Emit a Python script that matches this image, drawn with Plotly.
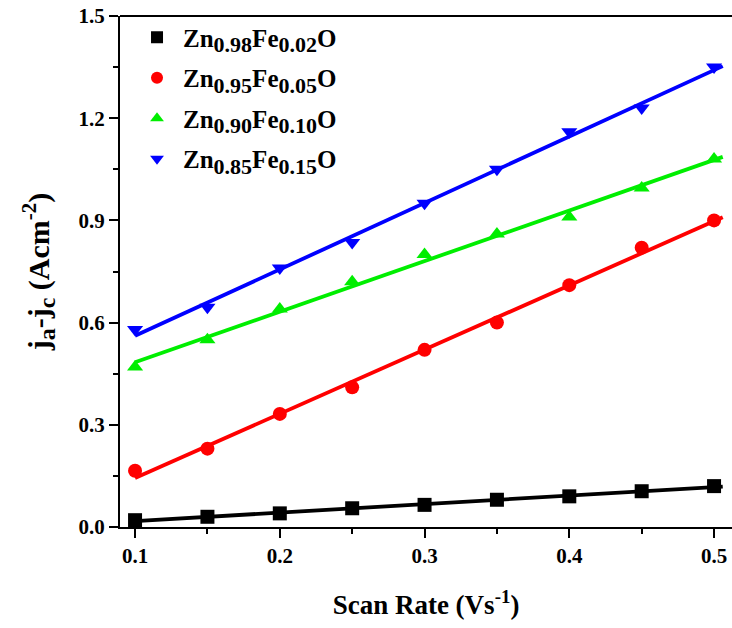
import numpy as np
import plotly.graph_objects as go

scan_rate = [0.10, 0.15, 0.20, 0.25, 0.30, 0.35, 0.40, 0.45, 0.50]
fe002 = [0.020, 0.030, 0.040, 0.055, 0.065, 0.080, 0.090, 0.105, 0.120]
fe005 = [0.165, 0.230, 0.332, 0.410, 0.520, 0.600, 0.710, 0.820, 0.900]
fe010 = [0.470, 0.550, 0.640, 0.720, 0.800, 0.860, 0.910, 0.995, 1.080]
fe015 = [0.580, 0.645, 0.760, 0.835, 0.950, 1.050, 1.160, 1.230, 1.350]

SUB = "<sub><span style='font-size:22px'>{}</span></sub>"
names = ["Zn" + SUB.format("0.98") + "Fe" + SUB.format("0.02") + "O",
         "Zn" + SUB.format("0.95") + "Fe" + SUB.format("0.05") + "O",
         "Zn" + SUB.format("0.90") + "Fe" + SUB.format("0.10") + "O",
         "Zn" + SUB.format("0.85") + "Fe" + SUB.format("0.15") + "O"]
colors = ["#000000", "#ff0000", "#00ee00", "#0000ff"]
symbols = ["square", "circle", "triangle-up", "triangle-down"]
series = [fe002, fe005, fe010, fe015]

fig = go.Figure()
x = np.array(scan_rate)
xfit = np.array([0.1, 0.506])
for ys, n, c, s in zip(series, names, colors, symbols):
    k, b = np.polyfit(x, np.array(ys), 1)
    fig.add_trace(go.Scatter(x=xfit, y=k * xfit + b, mode="lines",
                             line=dict(color=c, width=3.8), showlegend=False,
                             hoverinfo="skip"))
for i, (ys, n, c, s) in enumerate(zip(series, names, colors, symbols)):
    fig.add_trace(go.Scatter(x=scan_rate, y=ys, mode="markers", name=n,
                             legendgroup="g%d" % i,
                             marker=dict(symbol=s, color=c, size=14,
                                         line=dict(width=0))))

font = "Liberation Serif, Times New Roman, serif"
fig.update_layout(
    width=732, height=628,
    margin=dict(l=120, r=0, t=16, b=101),
    plot_bgcolor="white", paper_bgcolor="white",
    font=dict(family=font, color="black"),
    showlegend=True,
    legend=dict(x=0.018, y=1.003, xanchor="left", yanchor="top",
                bgcolor="rgba(0,0,0,0)", tracegroupgap=5,
                font=dict(size=25, family=font, weight="bold"),
                itemwidth=42, itemsizing="constant"),
    xaxis=dict(range=[0.0896, 0.5124], showgrid=False, zeroline=False,
               showline=True, linecolor="black", linewidth=2,
               ticks="outside", ticklen=9, tickwidth=2, tickcolor="black",
               tickvals=[0.1, 0.2, 0.3, 0.4, 0.5],
               ticktext=["0.1", "0.2", "0.3", "0.4", "0.5"],
               minor=dict(ticks="outside", ticklen=5, tickwidth=2,
                          tickcolor="black", dtick=0.05, tick0=0.1),
               tickfont=dict(size=21, family=font, weight="bold"),
               title=dict(text="Scan Rate (Vs<sup>-1</sup>)", standoff=28,
                          font=dict(size=27, family=font, weight="bold")),
               mirror=False),
    yaxis=dict(range=[0, 1.5], showgrid=False, zeroline=False,
               showline=True, linecolor="black", linewidth=2,
               ticks="outside", ticklen=9, tickwidth=2, tickcolor="black",
               tickvals=[0.0, 0.3, 0.6, 0.9, 1.2, 1.5],
               ticktext=["0.0", "0.3", "0.6", "0.9", "1.2", "1.5"],
               minor=dict(ticks="outside", ticklen=5, tickwidth=2,
                          tickcolor="black", dtick=0.15, tick0=0),
               tickfont=dict(size=21, family=font, weight="bold"),
               title=dict(text="j<sub><span style='font-size:24px'>a</span></sub>-j<sub><span style='font-size:24px'>c</span></sub> (Acm<sup>-2</sup>)",
                          standoff=20,
                          font=dict(size=30, family=font, weight="bold"))),
)
fig.add_shape(type="line", xref="paper", yref="paper", x0=0, x1=1, y0=1, y1=1,
              line=dict(color="black", width=2))
fig.write_html("out.html")
